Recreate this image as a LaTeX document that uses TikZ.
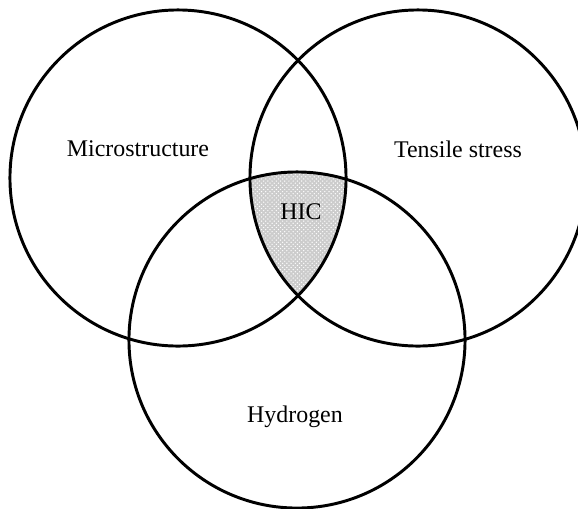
\documentclass[tikz,border=0pt]{standalone}
\usepackage{fontspec}
\setmainfont{Liberation Serif}
\usetikzlibrary{patterns}

\begin{document}
\begin{tikzpicture}[x=0.025cm, y=-0.025cm,
                    set/.style={draw, circle, line width=2.1pt, minimum size=8.4cm, inner sep=0pt},
                    label/.style={font=\fontsize{17}{20}\selectfont}]
\useasboundingbox (0,0) rectangle (578,508);
% shaded part common to all three sets
\begin{scope}
    \clip (178,178) circle[radius=4.2cm];
    \clip (418,178) circle[radius=4.2cm];
    \fill[black!20] (297,340) circle[radius=4.2cm];
    \fill[pattern=crosshatch dots, pattern color=white] (297,340) circle[radius=4.2cm];
\end{scope}
\node[set] (micro) at (178,178) {};
\node[set] (stress) at (418,178) {};
\node[set] (hydro) at (297,340) {};
\node[label] (microtext) at (138,149) {Microstructure};
\node[label] (stresstext) at (458,149) {Tensile stress};
\node[label] (hydrotext) at (295,417) {Hydrogen};
\node[label] (hic) at (301,212) {HIC};
\end{tikzpicture}
\end{document}
